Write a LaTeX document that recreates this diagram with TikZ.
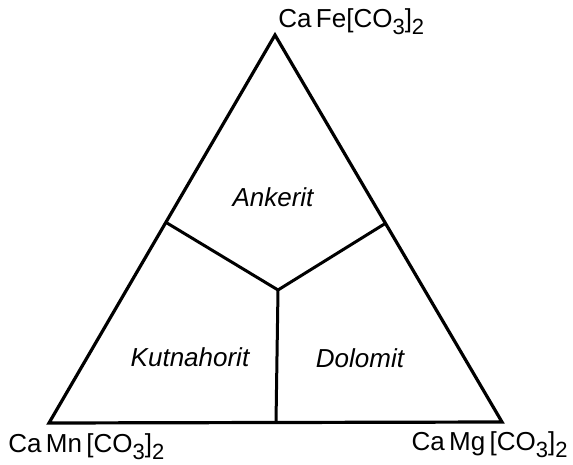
\documentclass[tikz,border=0pt]{standalone}
\usepackage{fontspec}
\setmainfont{Liberation Sans}
\usepackage{tikz}
\usetikzlibrary{positioning}
\tikzset{
  edge/.style    = {line width=1.5pt, line join=miter, draw=black},
  border/.style  = {line width=1.6pt, line join=miter, draw=black},
  corner/.style  = {inner sep=0pt, font=\fontsize{13}{15}\selectfont},
  field/.style   = {inner sep=0pt, font=\fontsize{13}{15}\selectfont\itshape},
}
\newcommand{\lowix}[1]{\raisebox{-3.5pt}{\fontsize{11}{13}\selectfont #1}}
\newcommand{\carb}[1]{Ca\,#1\,[CO\lowix{3}]\lowix{2}}

\begin{document}
\begin{tikzpicture}[x=0.5pt, y=-0.5pt]
\useasboundingbox (0,0) rectangle (573,465);

% Vertices of the triangle
\coordinate (fe) at (275,35);
\coordinate (mn) at (49,423);
\coordinate (mg) at (502,422);

% Inner boundaries
\coordinate (mid) at (278,290);
\coordinate (jl)  at (167,223);
\coordinate (jr)  at (386,223);
\coordinate (jb)  at (276,422.5);

\draw[border] (fe) -- (mg) -- (mn) -- cycle;
\draw[edge] (jl) -- (mid) -- (jr);
\draw[edge] (mid) -- (jb);

% Corner labels
\node[corner, anchor=base west] (lfe) at (278,28) {Ca\,Fe[CO\lowix{3}]\lowix{2}};
\node[corner, anchor=base west] (lmn) at (8,452) {\carb{Mn}};
\node[corner, anchor=base east] (lmg) at (568,450) {\carb{Mg}};

% Fields
\node[field] (ank) at (273,197) {Ankerit};
\node[field] (kut) at (190,357) {Kutnahorit};
\node[field] (dol) at (360,358) {Dolomit};

\end{tikzpicture}
\end{document}
